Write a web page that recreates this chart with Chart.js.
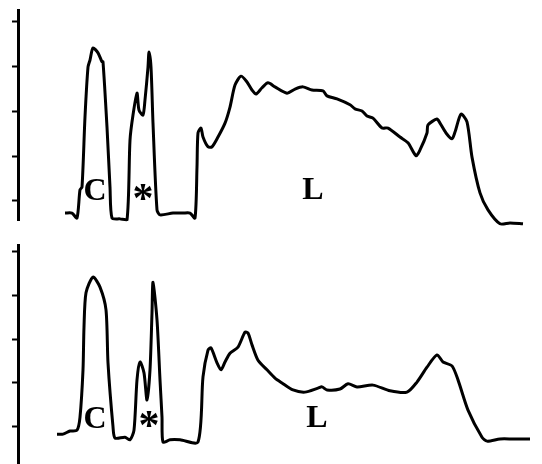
<!DOCTYPE html>
<html>
<head>
<meta charset="utf-8">
<script src="https://cdn.jsdelivr.net/npm/chart.js@4/dist/chart.umd.min.js"></script>
<style>
  html, body { margin: 0; padding: 0; background: #fff; }
  #wrap { position: relative; width: 542px; height: 464px; }
  canvas { position: absolute; left: 0; }
  #c1 { top: 0; }
  #c2 { top: 232px; }
</style>
</head>
<body>
<div id="wrap">
  <canvas id="c1" width="542" height="232"></canvas>
  <canvas id="c2" width="542" height="232"></canvas>
</div>
<script>
// ---- data (x in channel units, y in relative intensity units; ticks every 1 unit) ----
const tickValues = [0, 1, 2, 3, 4];

const topX = [47, 54, 59, 62, 64, 67, 70, 72, 75, 80, 84, 85, 89, 92, 94, 102, 109, 112, 115, 119, 121, 125, 127, 130, 131, 133, 135, 139, 142, 155, 165, 172, 177, 179, 180, 183, 185, 190, 194, 200, 207, 212, 217, 223, 229, 234, 238, 244, 250, 257, 269, 277, 285, 294, 305, 309, 319, 332, 337, 344, 349, 355, 364, 370, 382, 390, 398, 402, 409, 410, 419, 422, 428, 434, 437, 443, 449, 454, 462, 470, 482, 492, 505];
const topY = [-0.27, -0.27, -0.38, 0.25, 0.31, 1.88, 2.99, 3.15, 3.42, 3.31, 3.11, 3.11, 1.65, 0.31, -0.38, -0.40, -0.42, 1.36, 1.92, 2.41, 2.03, 1.92, 2.26, 2.99, 3.33, 2.99, 1.74, -0.20, -0.31, -0.27, -0.27, -0.27, -0.38, 0.76, 1.52, 1.63, 1.43, 1.21, 1.21, 1.43, 1.74, 2.10, 2.59, 2.79, 2.66, 2.48, 2.39, 2.53, 2.64, 2.55, 2.41, 2.50, 2.55, 2.48, 2.46, 2.35, 2.28, 2.15, 2.06, 2.01, 1.90, 1.85, 1.63, 1.63, 1.43, 1.30, 1.01, 1.14, 1.52, 1.70, 1.83, 1.74, 1.52, 1.39, 1.54, 1.94, 1.77, 0.98, 0.18, -0.20, -0.51, -0.49, -0.51];

const bottomX = [39, 45, 52, 59, 62, 65, 66, 68, 75, 82, 88, 90, 95, 97, 107, 112, 116, 119, 122, 126, 129, 132, 134, 135, 139, 142, 144, 145, 152, 162, 180, 185, 190, 193, 199, 203, 207, 212, 220, 227, 230, 234, 240, 249, 257, 264, 275, 287, 300, 304, 309, 322, 330, 339, 355, 372, 389, 399, 409, 419, 425, 434, 440, 450, 464, 469, 482, 495, 512];
const bottomY = [-0.17, -0.17, -0.10, -0.08, 0.22, 1.30, 2.28, 3.06, 3.42, 3.19, 2.67, 1.46, 0.00, -0.26, -0.24, -0.30, -0.08, 1.07, 1.48, 1.23, 0.61, 1.30, 2.60, 3.30, 2.44, 1.07, 0.22, -0.35, -0.30, -0.30, -0.35, 1.14, 1.75, 1.80, 1.46, 1.30, 1.48, 1.68, 1.82, 2.16, 2.14, 1.87, 1.52, 1.30, 1.11, 1.00, 0.84, 0.79, 0.88, 0.91, 0.84, 0.86, 0.98, 0.91, 0.95, 0.82, 0.79, 1.02, 1.36, 1.64, 1.48, 1.39, 1.07, 0.38, -0.24, -0.33, -0.28, -0.28, -0.28];

const labelTexts = ['C', '*', 'L'];
const topLabelX = [77, 125, 295];
const topLabelY = [0.20, 0.18, 0.22];
const bottomLabelX = [77, 131, 299];
const bottomLabelY = [0.15, 0.15, 0.18];

// ---- chart builder ----
function makeChart(id, xs, ys, lx, ly, yMin, yMax, padTop, padBottom) {
  const labelPlugin = {
    id: 'letters_' + id,
    afterDatasetsDraw(chart) {
      const ctx = chart.ctx;
      const sx = chart.scales.x, sy = chart.scales.y;
      ctx.save();
      ctx.fillStyle = '#000';
      ctx.textAlign = 'center';
      ctx.textBaseline = 'middle';
      labelTexts.forEach((t, i) => {
        ctx.font = t === '*' ? 'bold 42px "Liberation Serif", serif' : 'bold 32px "Liberation Serif", serif';
        const dy = t === '*' ? 8 : 0;
        ctx.fillText(t, sx.getPixelForValue(lx[i]), sy.getPixelForValue(ly[i]) + dy);
      });
      ctx.restore();
    }
  };
  return new Chart(document.getElementById(id), {
    type: 'line',
    data: {
      datasets: [{
        data: xs.map((x, i) => ({ x: x, y: ys[i] })),
        borderColor: '#000',
        borderWidth: 3,
        pointRadius: 0,
        tension: 0.25,
        fill: false,
        clip: false
      }]
    },
    options: {
      responsive: false,
      devicePixelRatio: 1,
      animation: false,
      events: [],
      layout: { padding: { left: 12, right: 4, top: padTop, bottom: padBottom } },
      plugins: { legend: { display: false }, tooltip: { enabled: false } },
      scales: {
        x: { type: 'linear', display: false, min: 0, max: 520 },
        y: {
          type: 'linear',
          min: yMin,
          max: yMax,
          afterBuildTicks: (scale) => { scale.ticks = tickValues.map(v => ({ value: v })); },
          ticks: { display: false },
          grid: { display: true, drawOnChartArea: false, drawTicks: true, tickLength: 6, tickWidth: 2, color: '#000' },
          border: { display: true, color: '#000', width: 3 }
        }
      }
    },
    plugins: [labelPlugin]
  });
}

makeChart('c1', topX, topY, topLabelX, topLabelY, -0.425, 4.268, 10, 12);
makeChart('c2', bottomX, bottomY, bottomLabelX, bottomLabelY, -0.83, 4.153, 13, 1);
</script>
</body>
</html>
